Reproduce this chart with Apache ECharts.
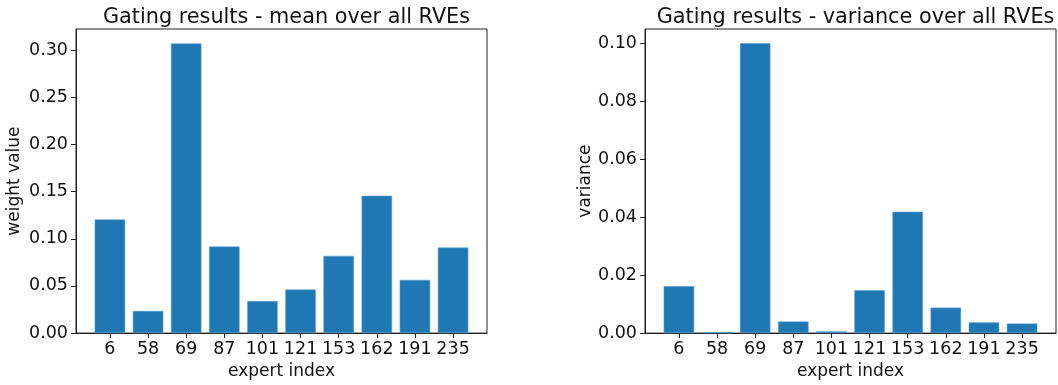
<!DOCTYPE html>
<html>
<head>
<meta charset="utf-8">
<script src="https://cdn.jsdelivr.net/npm/echarts@6/dist/echarts.min.js"></script>
<style>
html,body{margin:0;padding:0;background:#fff;}
#c{width:1058px;height:385px;}
</style>
</head>
<body>
<div id="c"></div>
<script>
const categories = ['6','58','69','87','101','121','153','162','191','235'];
const meanValues = [0.1204, 0.0235, 0.307, 0.0918, 0.034, 0.0462, 0.0819, 0.1456, 0.0564, 0.0907];
const varianceValues = [0.0162, 0.0003, 0.1001, 0.0040, 0.0006, 0.0148, 0.0419, 0.0088, 0.0037, 0.0033];
const meanTicks = [0, 0.05, 0.10, 0.15, 0.20, 0.25, 0.30];
const varianceTicks = [0, 0.02, 0.04, 0.06, 0.08, 0.10];
const titles = ['Gating results - mean over all RVEs', 'Gating results - variance over all RVEs'];
const yNames = ['weight value', 'variance'];
const xName = 'expert index';

const FONT = 'DejaVu Sans';
const TXT = '#111';
const AX = '#222';
const TICK_FS = 17.5, NAME_FS = 17, TITLE_FS = 20.8;
const plotW = 411, plotH = 307, plotTop = 29;
const lefts = [76, 645];
const xMin = -0.89, xMax = 9.89;
const barW = 0.8 * plotW / (xMax - xMin);
const idx = categories.map((c, i) => i);

function xAxis(g) {
  return {
    type: 'value', gridIndex: g, min: xMin, max: xMax,
    name: xName, nameLocation: 'middle', nameGap: 28,
    nameTextStyle: {fontFamily: FONT, fontSize: NAME_FS, color: TXT},
    axisLine: {show: true, onZero: false, lineStyle: {color: AX, width: 1}},
    axisTick: {show: true, length: 5, lineStyle: {color: AX}, customValues: idx},
    axisLabel: {fontFamily: FONT, fontSize: TICK_FS, color: TXT, margin: 7, customValues: idx,
      formatter: v => categories[Math.round(v)]},
    splitLine: {show: false}
  };
}
function yAxis(g, ticks, max) {
  return {
    type: 'value', gridIndex: g, min: 0, max: max,
    name: yNames[g], nameLocation: 'middle', nameGap: g === 0 ? 53 : 51,
    nameTextStyle: {fontFamily: FONT, fontSize: NAME_FS, color: TXT},
    axisLine: {show: true, onZero: false, lineStyle: {color: AX, width: 1}},
    axisTick: {show: true, length: 5, lineStyle: {color: AX}, customValues: ticks},
    axisLabel: {fontFamily: FONT, fontSize: TICK_FS, color: TXT, margin: 8, customValues: ticks,
      formatter: v => v.toFixed(2)},
    splitLine: {show: false}
  };
}

const chart = echarts.init(document.getElementById('c'), null, {renderer: 'canvas'});
chart.setOption({
  animation: false,
  backgroundColor: '#fff',
  title: titles.map((t, i) => ({
    text: t, left: lefts[i] + plotW / 2, top: 2, textAlign: 'center',
    textStyle: {fontFamily: FONT, fontSize: TITLE_FS, fontWeight: 'normal', color: TXT}
  })),
  grid: lefts.map(l => ({left: l, top: plotTop, width: plotW, height: plotH, show: true,
    borderColor: AX, borderWidth: 1, backgroundColor: 'transparent'})),
  xAxis: [xAxis(0), xAxis(1)],
  yAxis: [yAxis(0, meanTicks, 0.3224), yAxis(1, varianceTicks, 0.105)],
  series: [
    {type: 'bar', xAxisIndex: 0, yAxisIndex: 0, barWidth: barW,
     data: meanValues.map((v, i) => [i, v]),
     itemStyle: {color: '#1f77b4', borderColor: '#5b9fd0', borderWidth: 0.6}},
    {type: 'bar', xAxisIndex: 1, yAxisIndex: 1, barWidth: barW,
     data: varianceValues.map((v, i) => [i, v]),
     itemStyle: {color: '#1f77b4', borderColor: '#5b9fd0', borderWidth: 0.6}}
  ]
});
</script>
</body>
</html>
